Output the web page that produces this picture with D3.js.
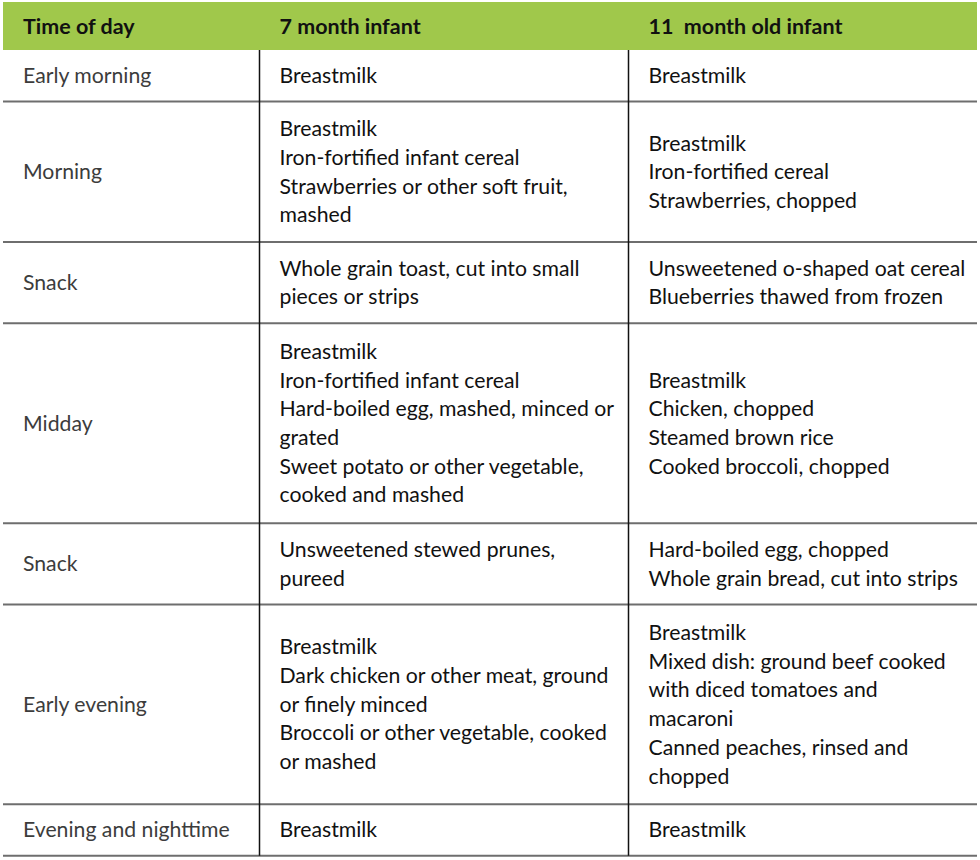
<!DOCTYPE html>
<html>
<head>
<meta charset="utf-8">
<script src="https://cdn.jsdelivr.net/npm/d3@7"></script>
<style>
  body { margin: 0; background: #fff; }
  text { font-family: Lato, "Open Sans", sans-serif; white-space: pre; }
</style>
</head>
<body>
<svg id="table"></svg>
<script>
// Table content
const headers = ['Time of day', '7 month infant', '11  month old infant'];

const times = ['Early morning', 'Morning', 'Snack', 'Midday', 'Snack', 'Early evening', 'Evening and nighttime'];

const infant7 = [
  ['Breastmilk'],
  ['Breastmilk', 'Iron-fortified infant cereal', 'Strawberries or other soft fruit,', 'mashed'],
  ['Whole grain toast, cut into small', 'pieces or strips'],
  ['Breastmilk', 'Iron-fortified infant cereal', 'Hard-boiled egg, mashed, minced or', 'grated', 'Sweet potato or other vegetable,', 'cooked and mashed'],
  ['Unsweetened stewed prunes,', 'pureed'],
  ['Breastmilk', 'Dark chicken or other meat, ground', 'or finely minced', 'Broccoli or other vegetable, cooked', 'or mashed'],
  ['Breastmilk']
];

const infant11 = [
  ['Breastmilk'],
  ['Breastmilk', 'Iron-fortified cereal', 'Strawberries, chopped'],
  ['Unsweetened o-shaped oat cereal', 'Blueberries thawed from frozen'],
  ['Breastmilk', 'Chicken, chopped', 'Steamed brown rice', 'Cooked broccoli, chopped'],
  ['Hard-boiled egg, chopped', 'Whole grain bread, cut into strips'],
  ['Breastmilk', 'Mixed dish: ground beef cooked', 'with diced tomatoes and', 'macaroni', 'Canned peaches, rinsed and', 'chopped'],
  ['Breastmilk']
];

const width = 980, height = 860;
const left = 3, right = 977, headTop = 2, headBottom = 50;
const colEdges = [left, 259.5, 628.5, right];
const inset = 20;
const lineH = 28.7;             // text line spacing
const rowLine = 29.66, rowPad = 21.9;  // row height per line + padding

const svg = d3.select('#table')
    .attr('width', width)
    .attr('height', height);

// fit body font size to the reference width of one long line
const probe = svg.append('text').attr('font-size', 100).text('Unsweetened o-shaped oat cereal');
const bodySize = 100 * 317 / probe.node().getComputedTextLength();
probe.attr('font-weight', 'bold').text('11  month old infant');
const headSize = 100 * 194 / probe.node().getComputedTextLength();
probe.remove();

// rows: one entry per time slot, cells as line arrays
const rows = times.map((t, i) => {
  const cells = [[t], infant7[i], infant11[i]];
  return {cells, n: d3.max(cells, c => c.length)};
});

// cumulative row heights -> pixels
const bounds = [0];
rows.forEach(r => bounds.push(bounds[bounds.length - 1] + r.n * rowLine + rowPad));
const yScale = d3.scaleLinear()
    .domain([0, bounds[bounds.length - 1]])
    .range([headBottom, headBottom + bounds[bounds.length - 1]]);
rows.forEach((r, i) => { r.y0 = yScale(bounds[i]); r.y1 = yScale(bounds[i + 1]); });

const xScale = d3.scaleOrdinal()
    .domain([0, 1, 2])
    .range(colEdges.slice(0, 3).map(x => x + inset));

// header
svg.append('rect')
    .attr('x', left)
    .attr('y', headTop)
    .attr('width', right - left)
    .attr('height', headBottom - headTop)
    .attr('fill', '#a0c84b');

svg.selectAll('.head')
    .data(headers)
    .join('text')
    .attr('class', 'head')
    .attr('x', (d, i) => xScale(i))
    .attr('y', (headTop + headBottom) / 2)
    .attr('dy', '0.36em')
    .attr('font-size', headSize)
    .attr('font-weight', 'bold')
    .attr('fill', '#111')
    .text(d => d);

// cells
const rowG = svg.selectAll('.row')
    .data(rows)
    .join('g')
    .attr('class', 'row');

rowG.each(function(r) {
  const g = d3.select(this);
  r.cells.forEach((lines, ci) => {
    const top = (r.y0 + r.y1) / 2 - lines.length * lineH / 2;
    g.selectAll(`.c${ci}`)
        .data(lines)
        .join('text')
        .attr('class', `c${ci}`)
        .attr('x', xScale(ci))
        .attr('y', (d, li) => top + (li + 0.5) * lineH)
        .attr('dy', '0.35em')
        .attr('font-size', bodySize)
        .attr('fill', ci === 0 ? '#3c3c3c' : '#111')
        .text(d => d);
  });
});

// horizontal rules
svg.selectAll('.hline')
    .data(rows)
    .join('line')
    .attr('class', 'hline')
    .attr('x1', left)
    .attr('x2', right)
    .attr('y1', d => d.y1)
    .attr('y2', d => d.y1)
    .attr('stroke', '#6e6e6e')
    .attr('stroke-width', 2);

// column rules
svg.selectAll('.vline')
    .data(colEdges.slice(1, 3))
    .join('line')
    .attr('class', 'vline')
    .attr('x1', d => d)
    .attr('x2', d => d)
    .attr('y1', headBottom)
    .attr('y2', yScale.range()[1])
    .attr('stroke', '#111')
    .attr('stroke-width', 1.5);
</script>
</body>
</html>
